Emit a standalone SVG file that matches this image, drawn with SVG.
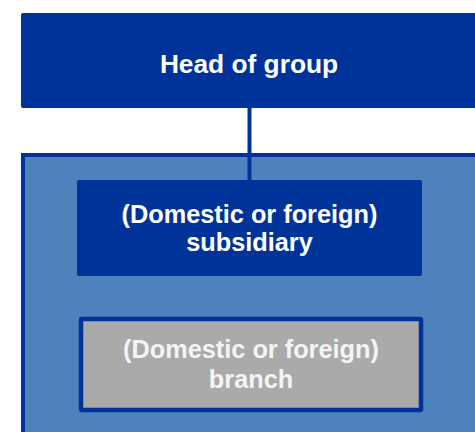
<svg xmlns="http://www.w3.org/2000/svg" width="475" height="432" viewBox="0 0 475 432">
<style>
.lbl{font-family:"Liberation Sans",Arial,sans-serif;font-weight:bold;font-size:25.3px;fill:#ffffff;text-anchor:middle}
.dark{fill:#003399}
</style>
<rect width="475" height="432" fill="#ffffff"/>
<g id="group-box">
<rect x="23" y="155" width="470" height="300" fill="#4f81bd" stroke="#003399" stroke-width="4"/>
</g>
<g id="connectors">
<line x1="249.5" y1="108" x2="249.5" y2="181" stroke="#003399" stroke-width="4"/>
</g>
<g id="head">
<rect class="dark" x="21" y="13" width="470" height="95" rx="2"/>
<text class="lbl" x="249" y="73" style="font-size:26.3px">Head of group</text>
</g>
<g id="subsidiary">
<rect class="dark" x="77" y="180" width="345" height="96" rx="2"/>
<text class="lbl" x="249.5" y="223">(Domestic or foreign)</text>
<text class="lbl" x="249.5" y="251">subsidiary</text>
</g>
<g id="branch">
<rect x="81" y="319" width="340" height="91" rx="1" fill="#aaaaaa" stroke="#003399" stroke-width="4.5"/>
<text class="lbl" x="251" y="358" style="fill:#f4f4f4">(Domestic or foreign)</text>
<text class="lbl" x="251" y="388" style="fill:#f4f4f4">branch</text>
</g>
</svg>
